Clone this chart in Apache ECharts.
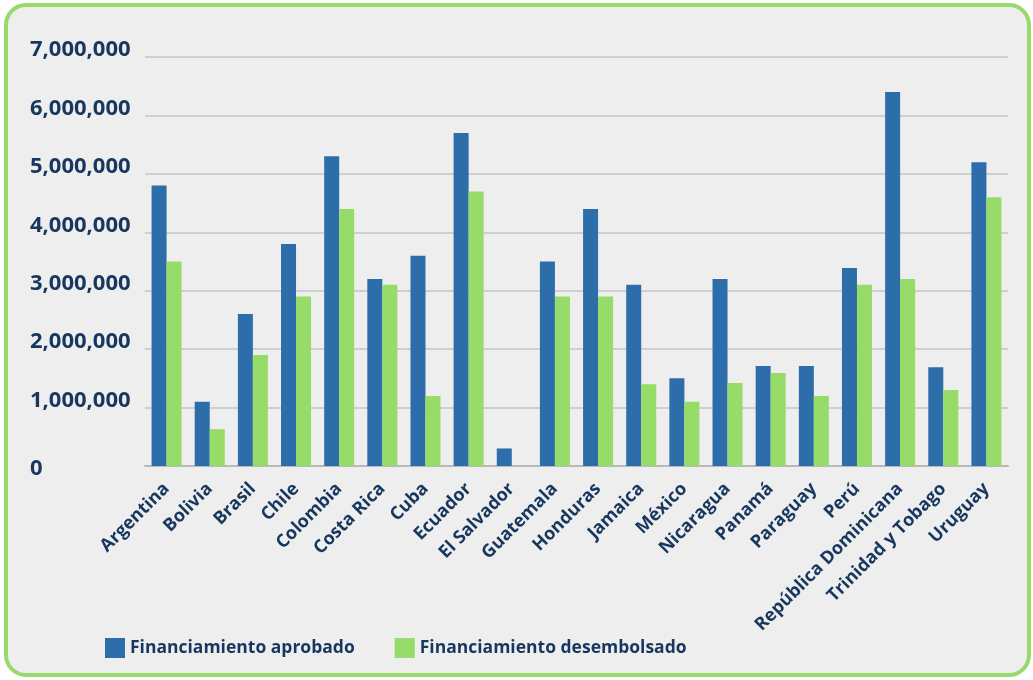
<!DOCTYPE html>
<html><head><meta charset="utf-8">
<script src="https://cdn.jsdelivr.net/npm/echarts@6/dist/echarts.min.js"></script>
<style>
html,body{margin:0;padding:0;background:#fff;}
#frame{position:absolute;left:4px;top:3px;width:1027px;height:674px;box-sizing:border-box;border:4px solid #97d96b;border-radius:22px;background:#edeeed;overflow:hidden;}
#chart{position:absolute;left:0;top:0;width:1033px;height:680px;}
</style></head>
<body>
<div id="frame"></div>
<div id="chart"></div>
<script>
const categories = ['Argentina','Bolivia','Brasil','Chile','Colombia','Costa Rica','Cuba','Ecuador','El Salvador','Guatemala','Honduras','Jamaica','México','Nicaragua','Panamá','Paraguay','Perú','República Dominicana','Trinidad y Tobago','Uruguay'];
const aprobado = [4800000,1100000,2600000,3800000,5300000,3200000,3600000,5700000,300000,3500000,4400000,3100000,1500000,3200000,1710000,1710000,3390000,6400000,1690000,5200000];
const desembolsado = [3500000,630000,1900000,2900000,4400000,3100000,1200000,4700000,0,2900000,2900000,1400000,1100000,1420000,1590000,1200000,3100000,3200000,1300000,4600000];
const yTicks = [0,1000000,2000000,3000000,4000000,5000000,6000000,7000000];
const seriesNames = ['Financiamiento aprobado','Financiamiento desembolsado'];

const navy = '#17375f';
const font = 'Open Sans';
const chart = echarts.init(document.getElementById('chart'));
chart.setOption({
  backgroundColor: 'transparent',
  animation: false,
  grid: {left: 145, right: 25, top: 57, bottom: 214, containLabel: false},
  legend: {
    left: 100, top: 633, itemWidth: 20, itemHeight: 20, itemGap: 40,
    icon: 'rect',
    textStyle: {color: navy, fontFamily: font, fontWeight: 'bold', fontSize: 17.5},
    data: seriesNames
  },
  xAxis: {
    type: 'category', data: categories,
    axisLine: {lineStyle: {color: '#b9b9b9', width: 2}},
    axisTick: {show: false},
    axisLabel: {rotate: 45, interval: 0, margin: 20, color: navy, fontFamily: font, fontWeight: 'bold', fontSize: 18}
  },
  yAxis: {
    type: 'value', min: yTicks[0], max: yTicks[yTicks.length-1], interval: 1000000,
    axisLine: {show: false}, axisTick: {show: false},
    splitLine: {lineStyle: {color: '#c4c4c4', width: 1.5}},
    axisLabel: {
      align: 'left', margin: 115,
      formatter: v => v === 0 ? '{z|0}' : '{a|' + v.toLocaleString('en-US') + '}',
      rich: {
        a: {color: navy, fontFamily: font, fontWeight: 'bold', fontSize: 22, lineHeight: 26, padding: [0,0,14,0]},
        z: {color: navy, fontFamily: font, fontWeight: 'bold', fontSize: 22, lineHeight: 26, padding: [6,0,0,0]}
      }
    }
  },
  series: [
    {name: seriesNames[0], type: 'bar', data: aprobado, barWidth: 15, barGap: '0%', itemStyle: {color: '#2d6daa'}},
    {name: seriesNames[1], type: 'bar', data: desembolsado, barWidth: 15, barGap: '0%', itemStyle: {color: '#97db68'}}
  ]
});
</script>
</body></html>
